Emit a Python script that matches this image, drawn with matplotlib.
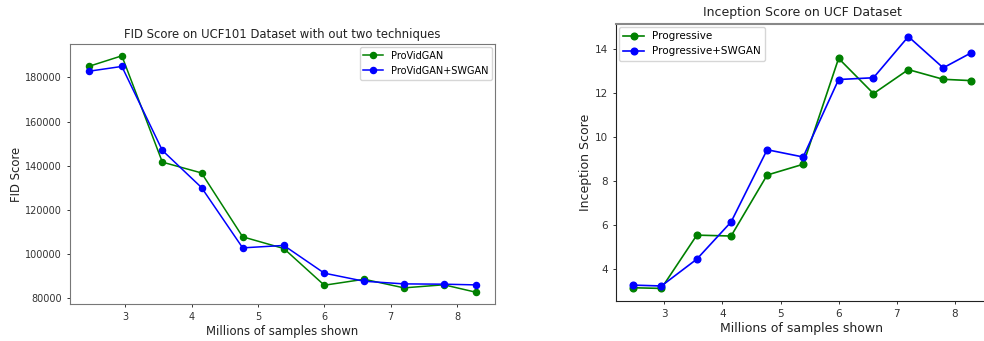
import matplotlib
matplotlib.use("Agg")
import matplotlib.pyplot as plt

# millions of samples shown
samples = [2.46, 2.95, 3.56, 4.15, 4.77, 5.39, 6.0, 6.6, 7.2, 7.8, 8.28]

fid_providgan = [185100, 189800, 141700, 136800, 107900, 102600,
                 86000, 88700, 84800, 86200, 82850]
fid_swgan = [182850, 185000, 147000, 130200, 102900, 104000,
             91450, 87800, 86600, 86470, 86150]

is_progressive = [3.15, 3.12, 5.54, 5.50, 8.27, 8.76,
                  13.57, 11.97, 13.06, 12.62, 12.56]
is_swgan = [3.27, 3.23, 4.45, 6.14, 9.42, 9.09,
            12.61, 12.69, 14.56, 13.14, 13.82]

W, H = 984, 341
fig = plt.figure(figsize=(W / 100, H / 100), dpi=100)

# left: FID
ax1 = fig.add_axes([70 / W, 1 - 304 / H, 425 / W, 260 / H])
ax1.plot(samples, fid_providgan, color='green', marker='o', lw=1.1, ms=4.4, label='ProVidGAN')
ax1.plot(samples, fid_swgan, color='blue', marker='o', lw=1.1, ms=4.4, label='ProVidGAN+SWGAN')
ax1.set_title('FID Score on UCF101 Dataset with out two techniques', fontsize=8.4,
              color='#222222', pad=4)
ax1.set_xlabel('Millions of samples shown', fontsize=8.4, color='#222222', labelpad=2)
ax1.set_ylabel('FID Score', fontsize=8.4, color='#222222', labelpad=1.5)
ax1.tick_params(labelsize=7, colors='#333333', length=2.5, width=0.7)
for s in ax1.spines.values():
    s.set_color('#777777')
ax1.legend(loc='upper right', fontsize=7, borderaxespad=0.3)

# right: Inception score
ax2 = fig.add_axes([616 / W, 1 - 301 / H, 372 / W, 277 / H])
ax2.plot(samples, is_progressive, color='green', marker='o', lw=1.2, ms=4.8, label='Progressive')
ax2.plot(samples, is_swgan, color='blue', marker='o', lw=1.2, ms=4.8, label='Progressive+SWGAN')
ax2.set_title('Inception Score on UCF Dataset', fontsize=9, color='#222222')
ax2.set_xlabel('Millions of samples shown', fontsize=9, color='#222222', labelpad=2)
ax2.set_ylabel('Inception Score', fontsize=9, color='#222222', labelpad=1.5)
ax2.tick_params(labelsize=7.5, colors='#333333', length=2.5, width=0.7)
for s in ax2.spines.values():
    s.set_color('#222222')
ax2.spines['top'].set_color('#888888')
ax2.spines['top'].set_linewidth(1.5)
ax2.legend(loc='upper left', fontsize=7.5, borderaxespad=0.3)

fig.savefig('out.png', dpi=100)
